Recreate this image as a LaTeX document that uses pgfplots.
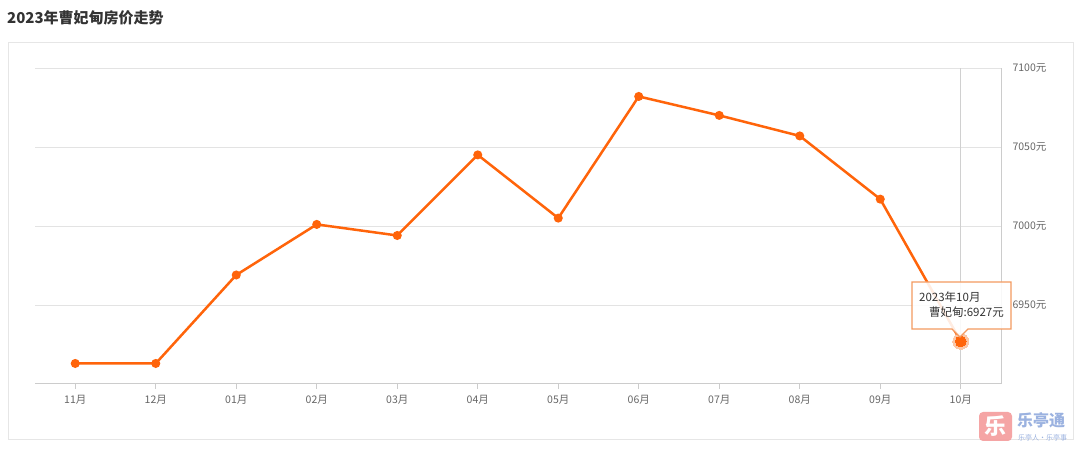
\documentclass[border=0pt]{standalone}
\usepackage{pgfplots}
\pgfplotsset{compat=1.18}
\usepackage{fontspec}
\setmainfont{Noto Sans CJK SC}
\definecolor{lineor}{HTML}{FF640A}
\definecolor{halo}{HTML}{FBC6A6}
\definecolor{panelc}{HTML}{E6E6E6}
\definecolor{titlec}{HTML}{333333}
\definecolor{axisc}{HTML}{CCCCCC}
\definecolor{gridc}{HTML}{E3E3E3}
\definecolor{labelc}{HTML}{666666}
\definecolor{crossc}{HTML}{D0D0D0}
\definecolor{tipc}{HTML}{F39A60}
\definecolor{logopink}{HTML}{F59C9C}
\definecolor{logoblue}{HTML}{9BB2E0}
\begin{document}
\begin{tikzpicture}[x=1pt,y=1pt]
\path[fill=white] (0,0) rectangle (1080,450);
\draw[panelc, line width=1pt] (8.5,10.5) rectangle (1073.5,407.5);
\node[anchor=west, font=\fontsize{15}{18}\selectfont\bfseries, text=titlec, inner sep=0] at (7,432) {2023年曹妃甸房价走势};
\begin{axis}[at={(35pt,66pt)}, anchor=south west, scale only axis,
  width=966pt, height=316pt,
  xmin=-0.5, xmax=11.5, ymin=6900, ymax=7100,
  xtick={0,1,2,3,4,5,6,7,8,9,10,11},
  xticklabels={11月,12月,01月,02月,03月,04月,05月,06月,07月,08月,09月,10月},
  ytick={6950,7000,7050,7100},
  yticklabels={6950元,7000元,7050元,7100元},
  axis x line*=bottom, axis y line*=right,
  axis line style={-, draw=axisc, line width=1pt},
  ymajorgrids, grid style={gridc, line width=0.8pt},
  tick align=outside, major tick length=5pt,
  xtick style={draw=axisc, line width=0.8pt}, ytick style={draw=none},
  /pgf/number format/assume math mode=true,
  tick label style={font=\fontsize{10.5}{12}\selectfont, text=labelc},
  xticklabel style={yshift=-3pt},
  yticklabel style={anchor=west, xshift=3pt},
  clip=false,
]
\draw[crossc, line width=1pt] (axis cs:11,6900) -- (axis cs:11,7100);
\addplot[lineor, line width=2.5pt, mark=*, mark size=3.2pt, mark options={fill=lineor, draw=none}] coordinates {
(0,6913) (1,6913) (2,6969) (3,7001) (4,6994) (5,7045) (6,7005) (7,7082) (8,7070) (9,7057) (10,7017) (11,6927)};
\addplot[halo, only marks, mark=*, mark size=8pt, mark options={fill=halo, draw=none, line width=0pt}] coordinates {(11,6927)};
\addplot[lineor, only marks, mark=*, mark size=5.4pt, mark options={fill=lineor, draw=none, line width=0pt}] coordinates {(11,6927)};
\end{axis}
% tooltip
\draw[tipc, line width=1.2pt, fill=white, fill opacity=0.88] (912,168) -- (1011,168) -- (1011,121) -- (968,121) -- (960,113) -- (952,121) -- (912,121) -- cycle;
\node[anchor=west, inner sep=0, font=\fontsize{11.5}{13}\selectfont, text=titlec] at (919,153) {2023年10月};
\node[anchor=east, inner sep=0, font=\fontsize{11.5}{13}\selectfont, text=titlec] at (1004,138) {曹妃甸:6927元};
% watermark
\fill[logopink, rounded corners=4pt, opacity=0.9] (979,9) rectangle (1012,38);
\node[text=white, font=\fontsize{22}{24}\selectfont\bfseries, inner sep=0] at (995.5,24) {乐};
\node[anchor=west, inner sep=0, text=logoblue, font=\fontsize{16}{18}\selectfont\bfseries] at (1017,29.5) {乐亭通};
\node[anchor=west, inner sep=0, text=logoblue, font=\fontsize{7}{8}\selectfont] at (1018,12.5) {乐亭人·乐亭事};
\end{tikzpicture}
\end{document}
